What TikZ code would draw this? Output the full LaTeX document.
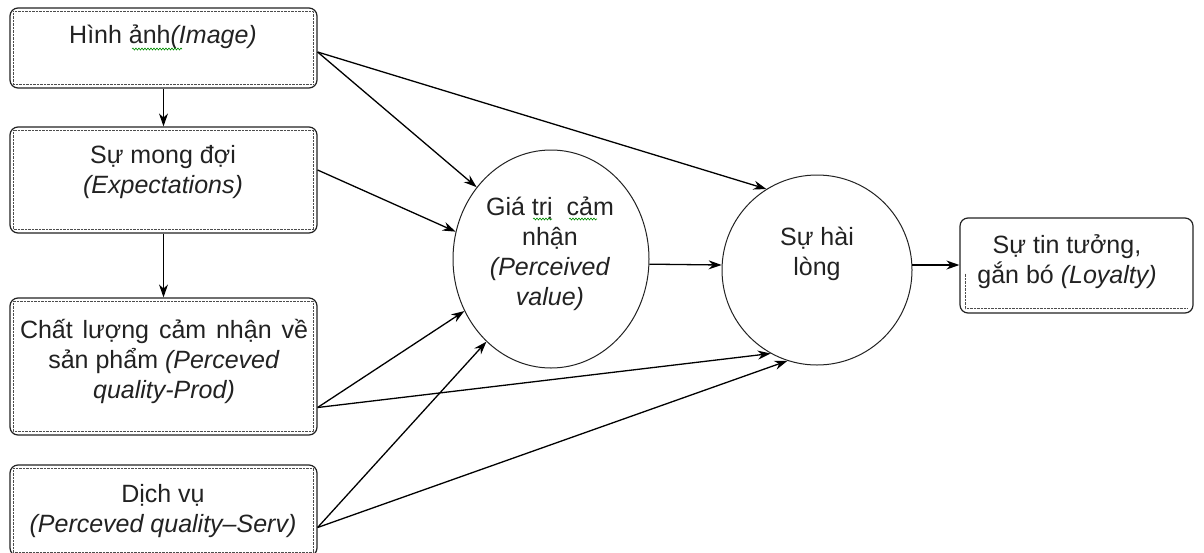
\documentclass[tikz,border=0pt]{standalone}
\usepackage{fontspec}
\setmainfont{Liberation Sans}
\usetikzlibrary{shapes.geometric,arrows.meta,calc,decorations.pathmorphing}
\newcommand\mlines[1]{\begin{tabular}[t]{@{}c@{}}#1\end{tabular}}
\definecolor{ink}{HTML}{222222}
\begin{document}
\begin{tikzpicture}[x=1pt,y=-1pt,
  box/.style={draw=ink, line width=1.2pt, rounded corners=8pt, inner sep=0pt, minimum width=307pt},
  innerdot/.style={draw=black!70, line width=0.7pt, dash pattern=on 0.7pt off 0.7pt},
  txt/.style={text=ink, font=\fontsize{25}{30}\selectfont, inner sep=0pt, anchor=base},
  arr/.style={draw=black, line width=1.3pt, -{Stealth[length=13pt,width=9pt]}},
  bubble/.style={draw=ink, line width=1pt, inner sep=0pt},
  wavy/.style={draw=green!55!black, line width=0.6pt, decorate, decoration={snake, amplitude=1pt, segment length=3pt}}]
\useasboundingbox (0,0) rectangle (1204,552);
\clip (0,0) rectangle (1204,552);
\fill[white] (0,0) rectangle (1204,552);

% left boxes
\node[box, minimum height=80pt] (b1) at (163.5,48) {};
\node[box, minimum height=106pt] (b2) at (163.5,180) {};
\node[box, minimum height=137pt] (b3) at (163.5,366.5) {};
\node[box, minimum height=91pt] (b4) at (163.5,510.5) {};
\foreach \b in {b1,b2,b3,b4}
  \draw[innerdot] ($(\b.north west)+(4,4)$) rectangle ($(\b.south east)+(-4,-4)$);

% circles
\node[bubble, ellipse, minimum width=196pt, minimum height=218pt] (c1) at (551,259) {};
\node[bubble, circle, minimum size=190pt] (c2) at (817,270) {};

% loyalty box
\node[box, minimum width=233pt, minimum height=95pt] (L) at (1076.5,265.5) {};
\draw[innerdot] ($(L.south west)+(6,-40)$) -- ($(L.south west)+(6,-5)$) -- ($(L.south east)+(-6,-5)$);

% texts
\node[txt] (t1) at (163,43) {Hình ảnh\textit{(Image)}};
\node[txt] (t2) at (163,163) {\mlines{Sự mong đợi\\\textit{(Expectations)}}};
\node[txt] (t3) at (164,338) {\mlines{\makebox[288pt][s]{Chất lượng cảm nhận về}\\sản phẩm \textit{(Perceved}\\\textit{quality-Prod)}}};
\node[txt] (t4) at (163,502) {\mlines{Dịch vụ\\\textit{(Perceved quality–Serv)}}};
\node[txt] (tc1) at (550,215) {\mlines{Giá trị\ \ cảm\\nhận\\\textit{(Perceived}\\\textit{value)}}};
\node[txt] (tc2) at (817,245) {\mlines{Sự hài\\lòng}};
\node[txt] (tL) at (1067,253) {\mlines{Sự tin tưởng,\\gắn bó \textit{(Loyalty)}}};

% spell-check underlines
\draw[wavy] (132,49) -- (182,49);
\draw[wavy] (533,219) -- (552,219);
\draw[wavy] (569,219) -- (597,219);

% connectors
\draw[arr] (b1.south) -- (b2.north);
\draw[arr] (b2.south) -- (b3.north);
\draw[arr] ($(b1.east)+(0,4)$) -- (c1.136);
\draw[arr] ($(b1.east)+(0,4)$) -- (c2.122);
\draw[arr] ($(b2.east)+(0,-10)$) -- (c1.164);
\draw[arr] ($(b3.east)+(0,41)$) -- (c1.211);
\draw[arr] ($(b3.east)+(0,41)$) -- (c2.241);
\draw[arr] ($(b4.east)+(0,17)$) -- (c1.232);
\draw[arr] ($(b4.east)+(0,17)$) -- (c2.252);
\draw[arr] (c1.-3) -- (c2.177);
\draw[arr] (c2.3) -- (c2.3 -| L.west);
\end{tikzpicture}
\end{document}
